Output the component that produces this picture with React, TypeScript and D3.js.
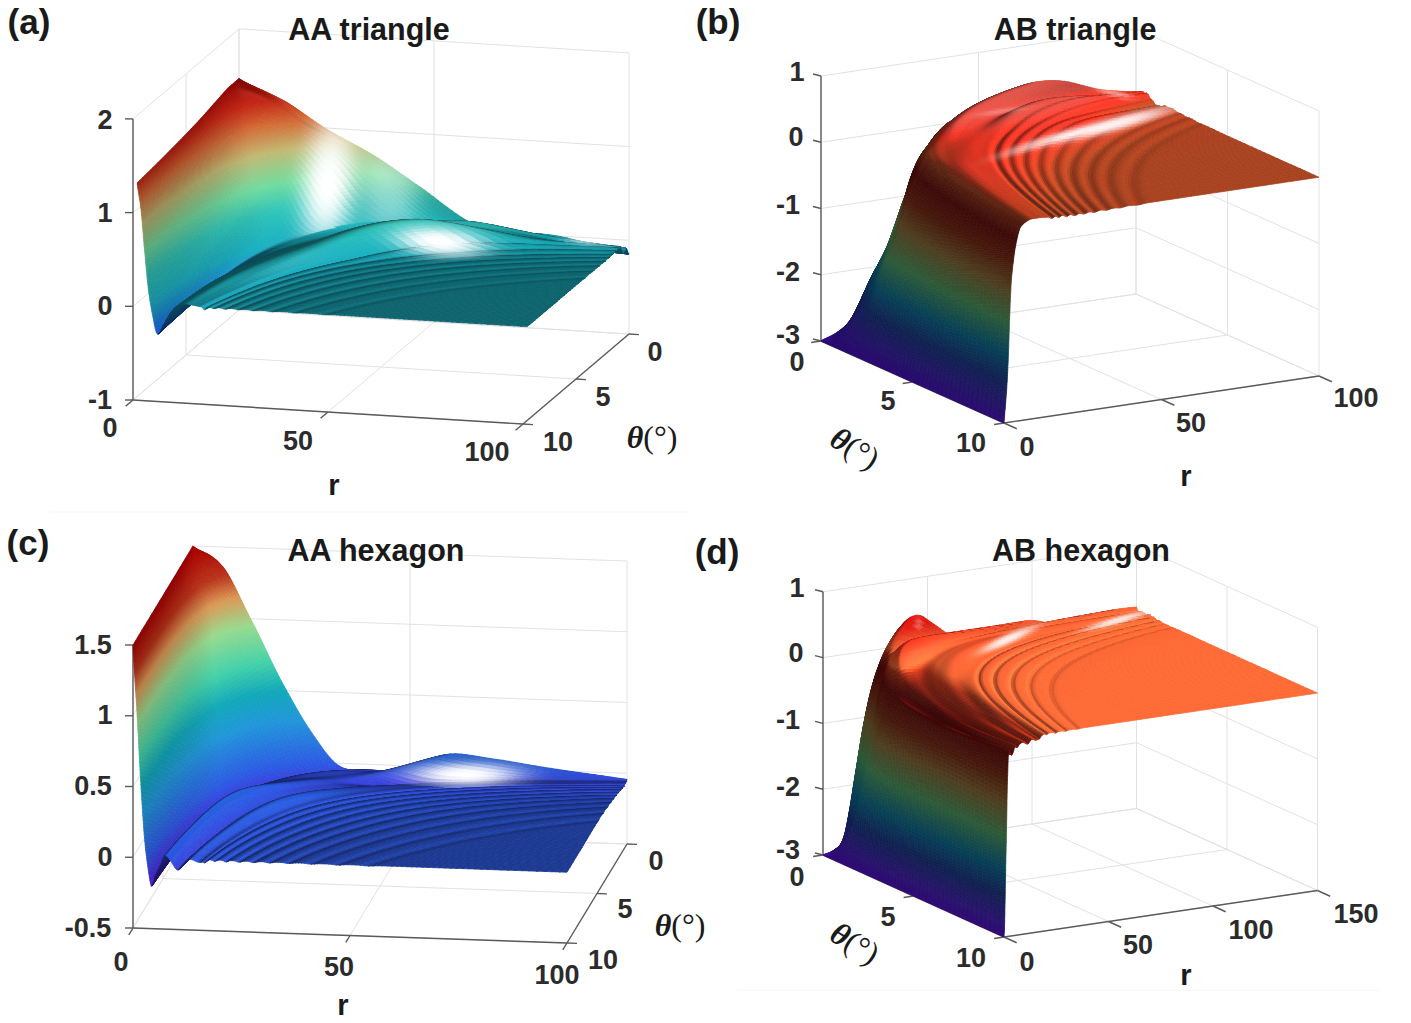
import React, { useMemo } from "react";
import * as d3 from "d3";

// ---------- panel (a) AA triangle ----------
const aTheta = [0, 0.5, 1, 2, 4, 7, 9.6];
const aU = [0, 10, 20, 30, 40, 54, 70, 90, 110, 130, 150, 175, 210, 280, 400, 1200];
const aZ0 = [1.47, 1.26, 0.97, 0.73, 0.43, 0.03, 0.0, -0.16, -0.16, -0.16, 0, 0, 0, 0, 0, 0];
const aZ1 = [1.47, 1.33, 1.12, 0.92, 0.66, 0.22, 0.03, 0.03, 0.04, -0.06, -0.1, 0.01, 0, 0, 0, 0];
const aZ2 = [1.47, 1.3, 1.08, 0.85, 0.6, 0.2, 0.05, 0.08, 0.2, 0.12, 0.05, 0.03, 0.01, 0, 0, 0];
const aZ3 = [1.44, 1.25, 1.0, 0.75, 0.5, 0.1, 0.02, 0.04, 0.12, 0.25, 0.28, 0.12, 0.02, 0, 0, 0];
const aZ4 = [1.38, 1.15, 0.85, 0.55, 0.3, -0.05, -0.05, 0, 0.06, 0.12, 0.12, 0.03, 0, 0, 0, 0];
const aZ5 = [1.32, 1.05, 0.65, 0.3, 0.02, -0.22, -0.15, -0.02, 0.03, 0.05, 0.03, 0, 0, 0, 0, 0];
const aZ6 = [1.28, 1.0, 0.55, 0.15, -0.1, -0.32, -0.22, -0.08, 0, 0.02, 0.01, 0, 0, 0, 0, 0];
const aRings = [180, 205, 235, 270, 310, 360, 420, 500];
const aRingDepth = [0.03, 0.014, 0.012, 0.009, 0.009, 0.008, 0.006, 0.005];

// ---------- panel (b) AB triangle ----------
const bTheta = [0, 1, 2.5, 5, 10];
const bU = [0, 8, 15, 25, 35, 45, 58, 70, 85, 100, 115, 135, 160, 200, 260, 320, 400, 1200];
const bZ0 = [-3, -2.9, -2.7, -2.1, -1.55, -0.7, -0.05, 0.1, 0.3, 0.42, 0.38, 0.15, 0.02, 0, 0, 0, 0, 0];
const bZ1 = [-3, -2.85, -2.65, -2.2, -1.8, -1.4, -0.6, -0.18, 0.14, 0.29, 0.25, 0.2, 0.3, 0.2, 0, 0, 0, 0];
const bZ2 = [-3, -2.8, -2.5, -1.6, -1.25, -0.9, -0.35, -0.05, 0.05, 0.08, 0.1, 0.12, 0.13, 0.15, 0.15, 0.1, 0.03, 0];
const bZ3 = [-3, -2.75, -2.35, -1.6, -1.1, -0.6, -0.3, -0.12, 0.02, 0.08, 0.1, 0.1, 0.1, 0.1, 0.07, 0.03, 0.01, 0];
const bZ4 = [-3, -2.6, -2.1, -1.0, -0.55, -0.3, -0.1, -0.04, 0, 0.02, 0.02, 0.02, 0.01, 0.01, 0, 0, 0, 0];
const bRings = [175, 200, 228, 258, 292, 330, 375, 425, 490];
const bRingDepth = [0.03, 0.03, 0.03, 0.028, 0.026, 0.024, 0.02, 0.016, 0.012];

// ---------- panel (c) AA hexagon ----------
const cTheta = [0, 0.5, 1.5, 4, 7, 10];
const cU = [0, 10, 20, 30, 40, 49, 60, 72, 85, 100, 118, 135, 150, 175, 200, 250, 400, 1200];
const cZ0 = [1.5, 1.36, 0.97, 0.55, 0.2, -0.02, -0.04, -0.03, 0.09, 0.07, 0.02, -0.02, -0.05, -0.05, -0.05, -0.05, -0.05, -0.05];
const cZ1 = [1.5, 1.3, 0.9, 0.5, 0.15, -0.04, -0.03, -0.04, -0.04, -0.09, -0.08, -0.06, -0.05, -0.05, -0.05, -0.05, -0.05, -0.05];
const cZ2 = [1.5, 1.25, 0.82, 0.45, 0.1, -0.08, -0.04, -0.03, -0.02, -0.05, -0.07, -0.05, -0.03, -0.03, -0.03, -0.03, -0.03, -0.03];
const cZ3 = [1.5, 1.18, 0.72, 0.33, 0.03, -0.12, -0.06, 0, 0.06, 0, -0.04, 0, 0.04, 0, 0, 0, 0, 0];
const cZ4 = [1.5, 1.1, 0.62, 0.22, -0.04, -0.16, -0.1, -0.03, 0.04, -0.02, -0.07, -0.02, 0.02, -0.01, 0, 0, 0, 0];
const cZ5 = [1.5, 1.05, 0.55, 0.15, -0.08, -0.2, -0.12, -0.05, 0.02, -0.02, -0.08, -0.03, 0, -0.02, 0, 0, 0, 0];
const cRings = [190, 215, 245, 280, 318, 360, 410, 470, 540, 620];
const cRingDepth = [0.014, 0.012, 0.011, 0.01, 0.009, 0.008, 0.007, 0.006, 0.006, 0.005];

// ---------- panel (d) AB hexagon ----------
const dTheta = [0, 1, 3, 6, 10];
const dU = [0, 3, 6, 9, 12, 15, 18, 22, 26, 30, 38, 48, 56, 66, 80, 100, 120, 140, 165, 200, 260, 350, 500, 1600];
const dZ0 = [-3, -2.95, -2.8, -2.4, -1.6, -0.7, -0.05, 0.34, 0.43, 0.27, -0.05, -0.02, 0.1, -0.04, 0.07, 0, 0, 0, 0, 0, 0, 0, 0, 0];
const dZ1 = [-3, -2.9, -2.7, -2.2, -1.85, -1.6, -1.4, -1.1, -0.75, -0.4, 0.02, 0.2, 0.2, 0.1, 0.04, 0.06, 0.08, 0.06, 0.03, 0.04, 0.01, 0, 0, 0];
const dZ2 = [-3, -2.85, -2.55, -2.0, -1.6, -1.2, -0.85, -0.55, -0.4, -0.3, -0.25, -0.2, -0.15, -0.12, -0.1, -0.04, 0.01, 0.02, 0.02, 0.03, 0.02, 0, 0, 0];
const dZ3 = [-3, -2.8, -2.45, -1.95, -1.45, -0.95, -0.6, -0.4, -0.32, -0.3, -0.28, -0.25, -0.22, -0.2, -0.18, -0.14, -0.1, -0.07, -0.01, 0.01, 0.01, 0, 0, 0];
const dZ4 = [-3, -2.8, -2.4, -1.9, -1.5, -1.0, -0.6, -0.25, -0.17, -0.2, -0.25, -0.2, -0.12, -0.15, -0.1, -0.08, -0.12, -0.06, -0.08, -0.01, 0, 0, 0, 0];
const dRings = [180, 215, 260, 310, 370];
const dRingDepth = [0.02, 0.02, 0.018, 0.012, 0.008];

// ---------- colour ramps (value -> colour) ----------
const aRampZ = [-0.35, 0, 0.3, 0.55, 0.85, 1.1, 1.3, 1.5];
const aRampC = ["#1450d0", "#16a0b0", "#2cb4a8", "#66c890", "#b0a868", "#c06030", "#b02010", "#8b0000"];
const cRampZ = [-0.2, 0, 0.3, 0.5, 0.7, 0.95, 1.15, 1.3, 1.5];
const cRampC = ["#4a18c8", "#2a55d8", "#1f8fd0", "#10a0b0", "#40c8a0", "#90d088", "#d09050", "#b03018", "#a00000"];
const bRampZ = [-3, -2.4, -2, -1.5, -1, -0.6, -0.25, -0.05, 0, 0.12, 0.22, 0.4];
const bRampC = ["#4d12cc", "#1d3a91", "#0d739b", "#50a466", "#8f6f3a", "#7e2c16", "#6a0f0f", "#90301a", "#a8421f", "#e03020", "#c8443a", "#c04a40"];
const dRampZ = [-3, -2.4, -2, -1.5, -1, -0.6, -0.25, -0.05, 0, 0.1, 0.3];
const dRampC = ["#5a14d8", "#1d3a91", "#0d739b", "#50a466", "#8f6f3a", "#7e2c16", "#6a0f0f", "#b8341a", "#ff6a35", "#ff5530", "#ff1a10"];

// gloss patches: cx, cy, sx, sy, rotation, strength, uMin, uMax, thetaMax
const aGloss = [
  [328, 184, 27, 62, 6, 1, 0, 62, 10],
  [390, 190, 30, 52, 0, 0.42, 0, 62, 10],
  [440, 242, 46, 15, 6, 1, 90, 260, 10],
  [597, 240, 24, 6, 0, 0.75, 60, 300, 10],
];
const bGloss = [
  [1112, 125, 60, 7, -15.5, 0.92, 120, 500, 10],
  [1040, 143, 45, 5, -18, 0.55, 100, 500, 10],
  [1112, 94, 18, 3, 14, 0.5, 0, 400, 3],
  [1000, 112, 26, 3, -8, 0.25, 0, 400, 3],
];
const cGloss = [
  [465, 775, 56, 12, 0, 1, 40, 200, 1.6],
];
const dGloss = [
  [1005, 640, 28, 5, -25, 0.9, 0, 1600, 10],
  [1110, 622, 30, 4, -16, 0.85, 0, 1600, 10],
  [918, 624, 4, 6, 0, 0.3, 0, 1600, 10],
];

type Panel = {
  title: string; tag: string; tagX: number; tagY: number; titleX: number; titleY: number;
  o: number[]; er: number[]; et: number[]; ez: number; zlo: number; zhi: number; R: number; thetaMax: number; t0: number; us: number;
  theta: number[]; u: number[]; rows: number[][]; rings: number[]; depth: number[]; ringW: number; rampZ: number[]; rampC: string[]; gloss: number[][];
  L: number[]; H: number[]; amb: number; dif: number; fmin: number; fmax: number; spec: number; pw: number;
  wallR: number; zAxisR: number; zAxisT: number; thetaAxisR: number;
  zTicks: number[]; rTicks: number[]; tTicks: number[];
  zLab: number[][]; rLab: number[][]; tLab: number[][]; rName: number[]; tName: number[]; tRot: number;
};

const panels: Panel[] = [
  {
    title: "AA triangle", tag: "(a)", tagX: 29, tagY: 34, titleX: 369, titleY: 40,
    o: [133, 400], er: [3.9, 0.24], et: [-10.6, 9.0], ez: 93.7, zlo: -1, zhi: 2, R: 100, thetaMax: 9.6, t0: 0.86, us: 12,
    theta: aTheta, u: aU, rows: [aZ0, aZ1, aZ2, aZ3, aZ4, aZ5, aZ6], rings: aRings, depth: aRingDepth, ringW: 0.03, rampZ: aRampZ, rampC: aRampC, gloss: aGloss,
    L: [0.6, 0.5, 0.45], H: [0.5, 0.25, 0.83], amb: 0.1, dif: 1.05, fmin: 0.5, fmax: 1.1, spec: 0.08, pw: 60,
    wallR: 0, zAxisR: 0, zAxisT: 10, thetaAxisR: 100,
    zTicks: [-1, 0, 1, 2], rTicks: [0, 50, 100], tTicks: [0, 5, 10],
    zLab: [[2, 105, 120], [1, 105, 213], [0, 105, 306], [-1, 100, 400]],
    rLab: [[0, 110, 428], [50, 298, 441], [100, 487, 452]],
    tLab: [[0, 655, 352], [5, 603, 397], [10, 558, 442]],
    rName: [334, 485], tName: [652, 437], tRot: 0,
  },
  {
    title: "AB triangle", tag: "(b)", tagX: 718, tagY: 34, titleX: 1075, titleY: 40,
    o: [1004, 423], er: [3.15, -0.47], et: [18.3, 8.2], ez: 66.25, zlo: -3, zhi: 1, R: 100, thetaMax: 10, t0: 1.5, us: 14,
    theta: bTheta, u: bU, rows: [bZ0, bZ1, bZ2, bZ3, bZ4], rings: bRings, depth: bRingDepth, ringW: 0.042, rampZ: bRampZ, rampC: bRampC, gloss: bGloss,
    L: [0.4, 0.3, 0.5], H: [0.55, 0.3, 0.78], amb: 0.29, dif: 1.0, fmin: 0.55, fmax: 1.3, spec: 0.05, pw: 70,
    wallR: 100, zAxisR: 0, zAxisT: 0, thetaAxisR: 0,
    zTicks: [-3, -2, -1, 0, 1], rTicks: [0, 50, 100], tTicks: [0, 5, 10],
    zLab: [[1, 797, 72], [0, 796, 137], [-1, 788, 205], [-2, 788, 272], [-3, 788, 335]],
    rLab: [[0, 1027, 447], [50, 1191, 423], [100, 1356, 398]],
    tLab: [[0, 797, 362], [5, 888, 401], [10, 971, 443]],
    rName: [1186, 476], tName: [855, 448], tRot: 32,
  },
  {
    title: "AA hexagon", tag: "(c)", tagX: 28, tagY: 555, titleX: 376, titleY: 561,
    o: [133, 928], er: [4.34, 0.15], et: [-6.0, 9.9], ez: 141.5, zlo: -0.5, zhi: 1.5, R: 100, thetaMax: 10, t0: 1.45, us: 12,
    theta: cTheta, u: cU, rows: [cZ0, cZ1, cZ2, cZ3, cZ4, cZ5], rings: cRings, depth: cRingDepth, ringW: 0.028, rampZ: cRampZ, rampC: cRampC, gloss: cGloss,
    L: [0.6, 0.5, 0.45], H: [0.1, 0.45, 0.89], amb: 0.15, dif: 1.05, fmin: 0.5, fmax: 1.05, spec: 0.04, pw: 90,
    wallR: 0, zAxisR: 0, zAxisT: 10, thetaAxisR: 100,
    zTicks: [-0.5, 0, 0.5, 1, 1.5], rTicks: [0, 50, 100], tTicks: [0, 5, 10],
    zLab: [[1.5, 93, 645], [1, 105, 715], [0.5, 93, 786], [0, 105, 857], [-0.5, 88, 928]],
    rLab: [[0, 121, 962], [50, 339, 967], [100, 557, 975]],
    tLab: [[0, 656, 861], [5, 625, 909], [10, 603, 960]],
    rName: [343, 1005], tName: [680, 925], tRot: 0,
  },
  {
    title: "AB hexagon", tag: "(d)", tagX: 717, tagY: 564, titleX: 1081, titleY: 561,
    o: [1004, 937], er: [2.09, -0.31], et: [18.1, 8.2], ez: 65.8, zlo: -3, zhi: 1, R: 150, thetaMax: 10, t0: 0.57, us: 5,
    theta: dTheta, u: dU, rows: [dZ0, dZ1, dZ2, dZ3, dZ4], rings: dRings, depth: dRingDepth, ringW: 0.03, rampZ: dRampZ, rampC: dRampC, gloss: dGloss,
    L: [0.4, 0.3, 0.5], H: [0.55, 0.3, 0.78], amb: 0.29, dif: 1.0, fmin: 0.55, fmax: 1.3, spec: 0.05, pw: 70,
    wallR: 150, zAxisR: 0, zAxisT: 0, thetaAxisR: 0,
    zTicks: [-3, -2, -1, 0, 1], rTicks: [0, 50, 100, 150], tTicks: [0, 5, 10],
    zLab: [[1, 797, 588], [0, 796, 653], [-1, 788, 720], [-2, 788, 787], [-3, 788, 850]],
    rLab: [[0, 1027, 962], [50, 1138, 945], [100, 1251, 930], [150, 1356, 914]],
    tLab: [[0, 797, 877], [5, 888, 917], [10, 971, 958]],
    rName: [1186, 975], tName: [855, 943], tRot: 32,
  },
];

function cubic(xs: number[], ys: number[], x: number) {
  const n = xs.length;
  if (x <= xs[0]) return ys[0];
  if (x >= xs[n - 1]) return ys[n - 1];
  let i = d3.bisectRight(xs, x) - 1;
  if (i > n - 2) i = n - 2;
  const h = xs[i + 1] - xs[i];
  const t = (x - xs[i]) / h;
  const m = (k: number) => {
    if (k <= 0) return (ys[1] - ys[0]) / (xs[1] - xs[0]);
    if (k >= n - 1) return (ys[n - 1] - ys[n - 2]) / (xs[n - 1] - xs[n - 2]);
    return (ys[k + 1] - ys[k - 1]) / (xs[k + 1] - xs[k - 1]);
  };
  const t2 = t * t, t3 = t2 * t;
  return (2 * t3 - 3 * t2 + 1) * ys[i] + (t3 - 2 * t2 + t) * h * m(i) + (-2 * t3 + 3 * t2) * ys[i + 1] + (t3 - t2) * h * m(i + 1);
}

function makeSurface(p: Panel) {
  const X = p.u.map((u) => Math.log(1 + u / p.us));
  const rowsAt = (x: number) => p.rows.map((row) => cubic(X, row, x));
  const ringLn = p.rings.map((u) => Math.log(u));
  return (r: number, th: number) => {
    const u = r * (th + p.t0);
    const x = Math.log(1 + u / p.us);
    let z = cubic(p.theta, rowsAt(x), th);
    if (u > 20) {
      const lu = Math.log(u);
      for (let k = 0; k < ringLn.length; k++) {
        const d = (lu - ringLn[k]) / p.ringW;
        if (Math.abs(d) < 4) z -= p.depth[k] * Math.exp(-d * d);
      }
    }
    return z;
  };
}

function buildCells(p: Panel) {
  const f = makeSurface(p);
  const rScale = d3.scaleLinear().domain([0, 1]).range([0, p.R]);
  const px = (r: number, th: number, z: number) => [
    p.o[0] + r * p.er[0] + (th - 10) * p.et[0],
    p.o[1] + r * p.er[1] + (th - 10) * p.et[1] - (z - p.zlo) * p.ez,
  ];
  const color = d3.scaleLinear<string>().domain(p.rampZ).range(p.rampC).interpolate(d3.interpolateRgb).clamp(true);
  const Nt = 64, Nu = 250;
  const umax = p.R * (p.thetaMax + p.t0);
  const xmax = Math.log(1 + umax / p.us);
  const thetas = d3.range(Nt + 1).map((i) => p.thetaMax * Math.pow(i / Nt, 1.7));
  const uAt = (j: number) => p.us * (Math.exp((xmax * j) / Nu) - 1);
  const zr = p.zhi - p.zlo;
  const norm = (v: number[]) => { const l = Math.hypot(v[0], v[1], v[2]); return v.map((c) => c / l); };
  const L = norm(p.L), H = norm(p.H);
  const cells: { d: string; c: string; k: number }[] = [];
  for (let i = 0; i < Nt; i++) {
    const t0 = thetas[i], t1 = thetas[i + 1];
    for (let j = 0; j < Nu; j++) {
      const r00 = Math.min(uAt(j) / (t0 + p.t0), p.R);
      const r01 = Math.min(uAt(j + 1) / (t0 + p.t0), p.R);
      const r10 = Math.min(uAt(j) / (t1 + p.t0), p.R);
      const r11 = Math.min(uAt(j + 1) / (t1 + p.t0), p.R);
      if (r00 >= p.R && r10 >= p.R) continue;
      const pts = [[r00, t0], [r01, t0], [r11, t1], [r10, t1]].map(([r, t]) => px(r, t, f(r, t)));
      const rc = (r00 + r01 + r10 + r11) / 4, tc = (t0 + t1) / 2;
      const zc = f(rc, tc);
      const dr = Math.max(0.04, rc * 0.006), dt = Math.max(0.01, tc * 0.006);
      const zdr = (f(rc + dr, tc) - f(Math.max(0, rc - dr), tc)) / (rc - dr < 0 ? rc + dr : 2 * dr);
      const zdt = (f(rc, tc + dt) - f(rc, Math.max(0, tc - dt))) / (tc - dt < 0 ? tc + dt : 2 * dt);
      const n = norm([(-zdr * rScale(1)) / zr, (-zdt * 10) / zr, 1]);
      const nl = n[0] * L[0] + n[1] * L[1] + n[2] * L[2];
      const nh = Math.max(0, n[0] * H[0] + n[1] * H[1] + n[2] * H[2]);
      const fac = Math.min(p.fmax, Math.max(p.fmin, p.amb + p.dif * nl));
      let s = p.spec * Math.pow(nh, p.pw);
      const cen = px(rc, tc, zc);
      const uc = rc * (tc + p.t0);
      for (const g of p.gloss) {
        if (uc < g[6] || uc > g[7] || tc > g[8]) continue;
        const a = (g[4] * Math.PI) / 180;
        const dx = cen[0] - g[0], dy = cen[1] - g[1];
        const ex = (dx * Math.cos(a) + dy * Math.sin(a)) / g[2];
        const ey = (-dx * Math.sin(a) + dy * Math.cos(a)) / g[3];
        const q = ex * ex + ey * ey;
        s += g[5] * Math.exp(-Math.pow(q, 1.4));
      }
      s = Math.min(1, s);
      const c = d3.rgb(color(zc));
      const ch = (v: number) => Math.min(255, Math.round(Math.min(255, v * fac) * (1 - s) + 255 * s));
      const hex = `rgb(${ch(c.r)},${ch(c.g)},${ch(c.b)})`;
      const depth = p.o[1] + rc * p.er[1] + (tc - 10) * p.et[1];
      cells.push({ d: "M" + pts.map((q) => q[0].toFixed(1) + " " + q[1].toFixed(1)).join("L") + "Z", c: hex, k: depth });
    }
  }
  cells.sort((a, b) => a.k - b.k);
  return cells;
}

const FONT = "'Liberation Sans', Arial, sans-serif";
const TICKTXT = "#2b2b2b";

function PanelView({ p }: { p: Panel }) {
  const cells = useMemo(() => buildCells(p), [p]);
  const P = (r: number, th: number, z: number) => [
    p.o[0] + r * p.er[0] + (th - 10) * p.et[0],
    p.o[1] + r * p.er[1] + (th - 10) * p.et[1] - (z - p.zlo) * p.ez,
  ];
  const seg = (a: number[], b: number[], stroke: string, w: number, key: string) => (
    <line key={key} x1={a[0]} y1={a[1]} x2={b[0]} y2={b[1]} stroke={stroke} strokeWidth={w} />
  );
  const grid = "#e2e2e2";
  const axis = "#5a5a5a";
  const grids: React.ReactNode[] = [];
  p.rTicks.forEach((r) => {
    grids.push(seg(P(r, 0, p.zlo), P(r, 10, p.zlo), grid, 1, "fr" + r));
    grids.push(seg(P(r, 0, p.zlo), P(r, 0, p.zhi), grid, 1, "wr" + r));
  });
  p.tTicks.forEach((t) => {
    grids.push(seg(P(0, t, p.zlo), P(p.R, t, p.zlo), grid, 1, "ft" + t));
    grids.push(seg(P(p.wallR, t, p.zlo), P(p.wallR, t, p.zhi), grid, 1, "wt" + t));
  });
  p.zTicks.forEach((z) => {
    grids.push(seg(P(0, 0, z), P(p.R, 0, z), grid, 1, "zb" + z));
    grids.push(seg(P(p.wallR, 0, z), P(p.wallR, 10, z), grid, 1, "zs" + z));
  });
  const axes: React.ReactNode[] = [];
  axes.push(seg(P(p.zAxisR, p.zAxisT, p.zlo), P(p.zAxisR, p.zAxisT, p.zhi), axis, 1.4, "za"));
  axes.push(seg(P(0, 10, p.zlo), P(p.R, 10, p.zlo), axis, 1.4, "ra"));
  axes.push(seg(P(p.thetaAxisR, 0, p.zlo), P(p.thetaAxisR, 10, p.zlo), axis, 1.4, "ta"));
  p.zTicks.forEach((z) => {
    const a = P(p.zAxisR, p.zAxisT, z);
    axes.push(seg(a, [a[0] - 8, a[1] + (p.wallR === 0 ? 0 : -2)], axis, 1.4, "zt" + z));
  });
  p.rTicks.forEach((r) => {
    const a = P(r, 10, p.zlo);
    axes.push(seg(a, [a[0] + p.et[0] * 0.7, a[1] + p.et[1] * 0.7], axis, 1.4, "rt" + r));
  });
  p.tTicks.forEach((t) => {
    const a = P(p.thetaAxisR, t, p.zlo);
    const sgn = p.wallR === 0 ? 1 : -1;
    const s = (sgn * 10) / Math.hypot(p.er[0], p.er[1]);
    axes.push(seg(a, [a[0] + p.er[0] * s, a[1] + p.er[1] * s], axis, 1.4, "tt" + t));
  });
  const tick = (l: number[], i: string) => (
    <text key={i} x={l[1]} y={l[2]} fontFamily={FONT} fontWeight={700} fontSize={27} fill={TICKTXT} textAnchor="middle" dominantBaseline="central">
      {String(l[0])}
    </text>
  );
  return (
    <g>
      <g>{grids}</g>
      <g>{axes}</g>
      <g style={{ filter: "blur(0.7px)" }}>
        {cells.map((c, i) => (
          <path key={i} d={c.d} fill={c.c} stroke={c.c} strokeWidth={0.7} strokeLinejoin="round" />
        ))}
      </g>
      <g>
        {p.zLab.map((l, i) => tick(l, "z" + i))}
        {p.rLab.map((l, i) => tick(l, "r" + i))}
        {p.tLab.map((l, i) => tick(l, "t" + i))}
      </g>
      <text x={p.rName[0]} y={p.rName[1]} fontFamily={FONT} fontWeight={700} fontSize={29} fill="#1a1a1a" textAnchor="middle" dominantBaseline="central">r</text>
      <text transform={`translate(${p.tName[0]},${p.tName[1]}) rotate(${p.tRot})`} fontFamily="'Liberation Serif', serif" fontSize={32} fill="#1a1a1a" textAnchor="middle" dominantBaseline="central">
        <tspan fontWeight={700} fontStyle="italic">θ</tspan>
        <tspan>(°)</tspan>
      </text>
      <text x={p.titleX} y={p.titleY} fontFamily={FONT} fontWeight={700} fontSize={30.5} fill="#1a1a1a" textAnchor="middle">{p.title}</text>
      <text x={p.tagX} y={p.tagY} fontFamily={FONT} fontWeight={700} fontSize={35} fill="#1a1a1a" textAnchor="middle">{p.tag}</text>
    </g>
  );
}

export default function App() {
  return (
    <svg width={1411} height={1023} viewBox="0 0 1411 1023" style={{ position: "fixed", left: 0, top: 0, background: "#fff" }}>
      <line x1={50} y1={512} x2={690} y2={512} stroke="#f5f5f5" strokeWidth={1} />
      <line x1={737} y1={990} x2={1378} y2={990} stroke="#f5f5f5" strokeWidth={1} />
      {panels.map((p) => (
        <PanelView key={p.tag} p={p} />
      ))}
    </svg>
  );
}
